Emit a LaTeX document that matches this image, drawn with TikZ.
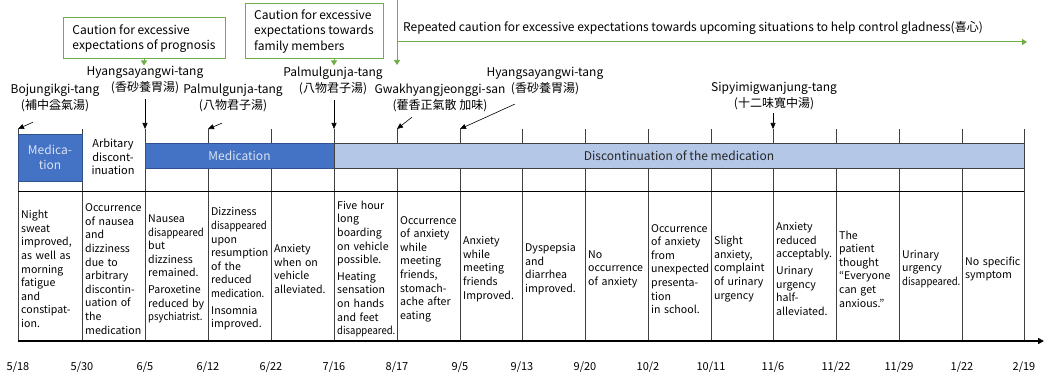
\documentclass[tikz,border=0pt]{standalone}
\usepackage{fontspec}
\setmainfont{Noto Sans CJK KR}
\usepackage{xcolor}
\usetikzlibrary{positioning, arrows.meta}

\definecolor{medblue}{HTML}{4472C4}
\definecolor{medline}{HTML}{2F528F}
\definecolor{offblue}{HTML}{B4C7E7}
\definecolor{warngreen}{HTML}{70AD47}
\definecolor{paletext}{HTML}{DAE3F3}

\newcommand{\tight}[1]{\scalebox{0.9}[1]{#1}}

\tikzset{
    gridline/.style={black!75, line width=0.7pt},
    cell/.style={anchor=west, text width=59pt, align=left, inner sep=1pt, font=\fontsize{10.6}{13.6}\selectfont},
    herb/.style={align=center, inner sep=1pt, font=\fontsize{12}{16}\selectfont},
    caution/.style={draw=warngreen, line width=1pt, align=left, inner sep=0pt, font=\fontsize{12}{15.5}\selectfont},
    bar/.style={minimum height=25pt, inner sep=0pt, line width=0.8pt, font=\fontsize{12}{14}\selectfont},
    pointer/.style={-{Triangle[length=6pt,width=5pt]}, line width=0.6pt},
    greentip/.style={warngreen, line width=1pt, -{Triangle[length=5pt,width=6pt]}},
}

\begin{document}
\begin{tikzpicture}[x=1pt, y=-1pt]
    \useasboundingbox (0,0) rectangle (1044,377);

    \foreach \x/\m/\d [count=\i] in {18/5/18, 82/5/30, 145/6/5, 208/6/12, 271/6/22, 334/7/16, 397/8/17, 460/9/5, 522/9/13, 585/9/20, 648/10/2, 711/10/11, 773/11/6, 836/11/22, 899/11/29, 962/1/22, 1024/2/19} {
        \coordinate (t\i) at (\x,129);
        \coordinate (b\i) at (\x,341);
        \node[font=\fontsize{11}{12}\selectfont] (d\i) at (\x,367) {\m/\d};
    }

    \foreach \i in {1,...,17}
        \draw[gridline] (t\i) -- (b\i);
    \draw[gridline] (145,168) -- (1024,168);
    \draw[black, line width=1pt] (18,191) -- (1024,191);
    \draw[black, line width=1.6pt, -{Triangle[length=6pt,width=6pt]}] (b1) -- (1044,341);

    \node[bar, fill=medblue, draw=medline, minimum width=64pt, minimum height=47pt, align=center, text=paletext, font=\fontsize{12}{15}\selectfont] (med1) at (50,157.5) {Medica-\\tion};
    \node[bar, fill=medblue, draw=medline, minimum width=189pt, text=paletext] (med2) at (239.5,155.5) {Medication};
    \node[bar, fill=offblue, draw=black!75, minimum width=690pt, text=black!85] (stop) at (679,155.5) {Discontinuation of the medication};
    \node[align=center, font=\fontsize{11}{13.5}\selectfont] (quit) at (113,157) {Arbitary\\discont-\\inuation};

    \node[cell] (c1) at (20,269) {Night\\sweat\\improved,\\as well as\\morning\\fatigue\\and\\constipat-\\ion.};
    \node[cell] (c2) at (84,269) {Occurrence\\of nausea\\and\\dizziness\\due to\\arbitrary\\discontin-\\uation of\\the\\medication};
    \node[cell] (c3) at (147,269) {Nausea\\\tight{disappeared}\\but\\dizziness\\remained.\\[3pt]Paroxetine\\reduced by\\\tight{psychiatrist.}};
    \node[cell] (c4) at (210,269) {Dizziness\\\tight{disappeared}\\upon\\resumption\\of the\\reduced\\\tight{medication.}\\[3pt]Insomnia\\improved.};
    \node[cell] (c5) at (273,269) {Anxiety\\when on\\vehicle\\alleviated.};
    \node[cell] (c6) at (336,269) {Five hour\\long\\boarding\\on vehicle\\possible.\\[3pt]Heating\\sensation\\on hands\\and feet\\\tight{disappeared.}};
    \node[cell] (c7) at (399,269) {Occurrence\\of anxiety\\while\\meeting\\friends,\\stomach-\\ache after\\eating};
    \node[cell] (c8) at (462,269) {Anxiety\\while\\meeting\\friends\\Improved.};
    \node[cell] (c9) at (524,269) {Dyspepsia\\and\\diarrhea\\improved.};
    \node[cell] (c10) at (587,269) {No\\occurrence\\of anxiety};
    \node[cell] (c11) at (650,269) {Occurrence\\of anxiety\\from\\unexpected\\presenta-\\tion\\in school.};
    \node[cell] (c12) at (713,269) {Slight\\anxiety,\\complaint\\of urinary\\urgency};
    \node[cell] (c13) at (775,269) {Anxiety\\reduced\\acceptably.\\[3pt]Urinary\\urgency\\half-\\alleviated.};
    \node[cell] (c14) at (838,269) {The\\patient\\thought\\“Everyone\\can get\\anxious.”};
    \node[cell] (c15) at (901,269) {Urinary\\urgency\\\tight{disappeared.}};
    \node[cell] (c16) at (964,269) {No specific\\symptom};

    \node[caution, minimum width=162pt, minimum height=41pt] (warn1) at (144,38.5) {Caution for excessive\\expectations of prognosis};
    \node[caution, minimum width=138pt, minimum height=55pt] (warn2) at (314,31.5) {Caution for excessive\\expectations towards\\family members};
    \draw[greentip] (warn1.south) -- ++(0,6);
    \draw[greentip] (warn2.south -| t6) -- ++(0,6);

    \coordinate (gtop) at (397,0);
    \coordinate (gturn) at (397,42);
    \coordinate (gend) at (1027,42);
    \draw[greentip] (gtop) -- (397,65);
    \draw[greentip] (gturn) -- (gend);
    \node[anchor=west, inner sep=0pt, font=\fontsize{12}{14}\selectfont] (again) at (403,28) {Repeated caution for excessive expectations towards upcoming situations to help control gladness(喜心)};

    \node[herb] (h1) at (55,98) {Bojungikgi-tang\\(補中益氣湯)};
    \node[herb] (h2) at (145,80) {Hyangsayangwi-tang\\(香砂養胃湯)};
    \node[herb] (h3) at (233,98) {Palmulgunja-tang\\(八物君子湯)};
    \node[herb] (h4) at (333,81) {Palmulgunja-tang\\(八物君子湯)};
    \node[herb] (h5) at (440,98) {Gwakhyangjeonggi-san\\(藿香正氣散 加味)};
    \node[herb] (h6) at (545,81) {Hyangsayangwi-tang\\(香砂養胃湯)};
    \node[herb] (h7) at (774,96) {Sipyimigwanjung-tang\\(十二味寬中湯)};

    \draw[pointer] ([shift={(-22,9)}]h1.south) -- (t1);
    \draw[pointer] ([shift={(0,4)}]h2.south) -- (t3);
    \draw[pointer] ([shift={(-11,10)}]h3.south) -- (t4);
    \draw[pointer] ([shift={(1,4)}]h4.south) -- (t6);
    \draw[pointer] ([shift={(-28,4)}]h5.south) -- (t7);
    \draw[pointer] ([shift={(-30,8)}]h6.south) -- (t8);
    \draw[pointer] ([shift={(-1,2)}]h7.south) -- (t13);
\end{tikzpicture}
\end{document}
